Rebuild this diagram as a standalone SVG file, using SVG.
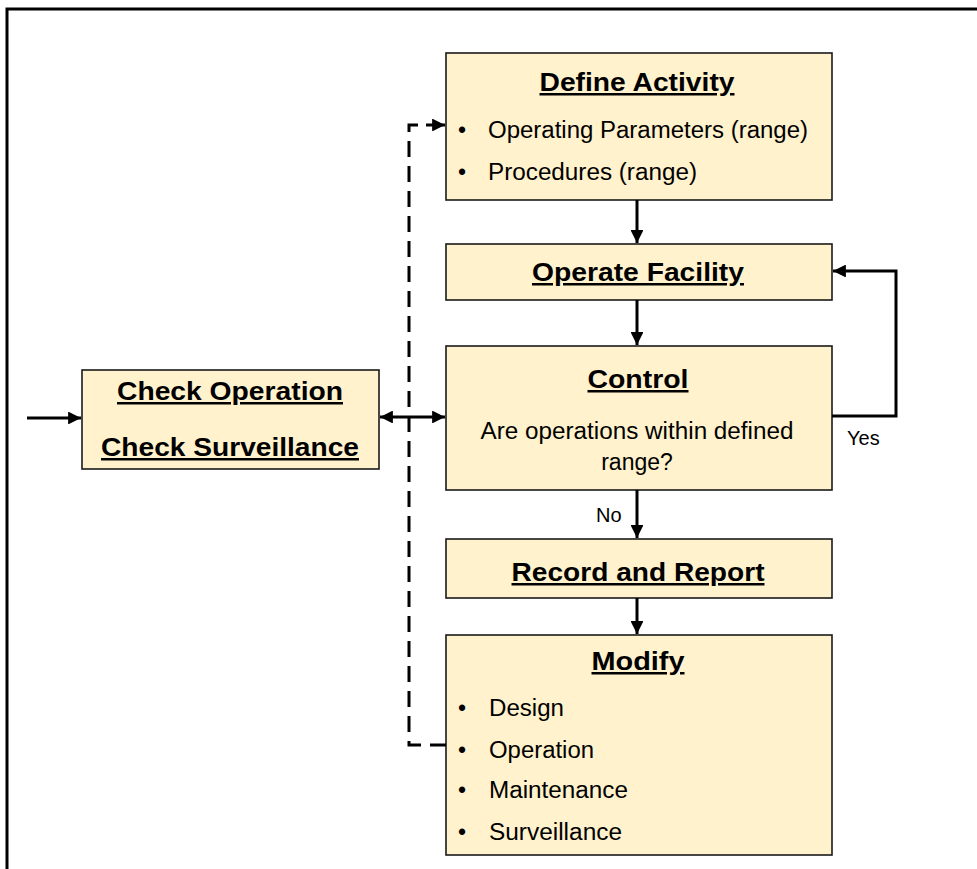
<svg xmlns="http://www.w3.org/2000/svg" width="977" height="869" viewBox="0 0 977 869">
<defs>
<marker id="ah" viewBox="0 0 10 10" refX="10" refY="5" markerWidth="4.3" markerHeight="4.3" orient="auto-start-reverse" markerUnits="strokeWidth">
<path d="M0,0 L10,5 L0,10 z" fill="#000"/>
</marker>
<style>
.box{fill:#FFF2CC;stroke:#1a1a1a;stroke-width:1.6}
.t{font-family:"Liberation Sans",Arial,sans-serif;font-weight:bold;font-size:25px;text-decoration:underline;fill:#000;text-anchor:middle}
.b{font-family:"Liberation Sans",Arial,sans-serif;font-size:23px;fill:#000}
.c{font-family:"Liberation Sans",Arial,sans-serif;font-size:23px;fill:#000;text-anchor:middle}
.l{font-family:"Liberation Sans",Arial,sans-serif;font-size:20px;fill:#000}
.ln{fill:none;stroke:#000;stroke-width:3}
.dash{fill:none;stroke:#000;stroke-width:3;stroke-dasharray:16 9}
</style>
</defs>
<rect width="977" height="869" fill="#fff"/>
<rect x="7" y="9" width="990" height="880" fill="none" stroke="#000" stroke-width="3"/>

<g id="define-activity">
<rect class="box" x="446" y="53" width="386" height="147"/>
<text class="t" x="637" y="91" textLength="195" lengthAdjust="spacingAndGlyphs">Define Activity</text>
<text class="b" x="458" y="138">•</text>
<text class="b" x="488" y="138" textLength="320" lengthAdjust="spacingAndGlyphs">Operating Parameters (range)</text>
<text class="b" x="458" y="180">•</text>
<text class="b" x="488" y="180" textLength="209" lengthAdjust="spacingAndGlyphs">Procedures (range)</text>
</g>

<g id="operate-facility">
<rect class="box" x="446" y="244" width="386" height="56"/>
<text class="t" x="638" y="281" textLength="212" lengthAdjust="spacingAndGlyphs">Operate Facility</text>
</g>

<g id="control">
<rect class="box" x="446" y="346" width="386" height="144"/>
<text class="t" x="638" y="388" textLength="101" lengthAdjust="spacingAndGlyphs">Control</text>
<text class="c" x="637" y="439" textLength="313" lengthAdjust="spacingAndGlyphs">Are operations within defined</text>
<text class="c" x="637" y="470">range?</text>
</g>

<g id="record-report">
<rect class="box" x="446" y="539" width="386" height="59"/>
<text class="t" x="638" y="581" textLength="253" lengthAdjust="spacingAndGlyphs">Record and Report</text>
</g>

<g id="modify">
<rect class="box" x="446" y="635" width="386" height="220"/>
<text class="t" x="638" y="670" textLength="93" lengthAdjust="spacingAndGlyphs">Modify</text>
<text class="b" x="458" y="716">•</text>
<text class="b" x="489" y="716" textLength="75" lengthAdjust="spacingAndGlyphs">Design</text>
<text class="b" x="458" y="758">•</text>
<text class="b" x="489" y="758" textLength="105" lengthAdjust="spacingAndGlyphs">Operation</text>
<text class="b" x="458" y="798">•</text>
<text class="b" x="489" y="798" textLength="139" lengthAdjust="spacingAndGlyphs">Maintenance</text>
<text class="b" x="458" y="840">•</text>
<text class="b" x="489" y="840" textLength="133" lengthAdjust="spacingAndGlyphs">Surveillance</text>
</g>

<g id="check">
<rect class="box" x="82" y="370" width="297" height="99"/>
<text class="t" x="230" y="400" textLength="226" lengthAdjust="spacingAndGlyphs">Check Operation</text>
<text class="t" x="230" y="456" textLength="258" lengthAdjust="spacingAndGlyphs">Check Surveillance</text>
</g>

<g id="connectors">
<path class="ln" d="M27,418 H81" marker-end="url(#ah)"/>
<path class="ln" d="M380,417 H445" marker-start="url(#ah)" marker-end="url(#ah)"/>
<path class="dash" d="M446,745 H409 V125 H424"/>
<path class="ln" d="M426,125 H445" marker-end="url(#ah)"/>
<path class="ln" d="M637,200 V243" marker-end="url(#ah)"/>
<path class="ln" d="M637,300 V345" marker-end="url(#ah)"/>
<path class="ln" d="M637,490 V538" marker-end="url(#ah)"/>
<path class="ln" d="M637,598 V634" marker-end="url(#ah)"/>
<path class="ln" d="M832,416 H896 V271 H833" marker-end="url(#ah)"/>
<text class="l" x="847" y="445">Yes</text>
<text class="l" x="596" y="522">No</text>
</g>
</svg>
